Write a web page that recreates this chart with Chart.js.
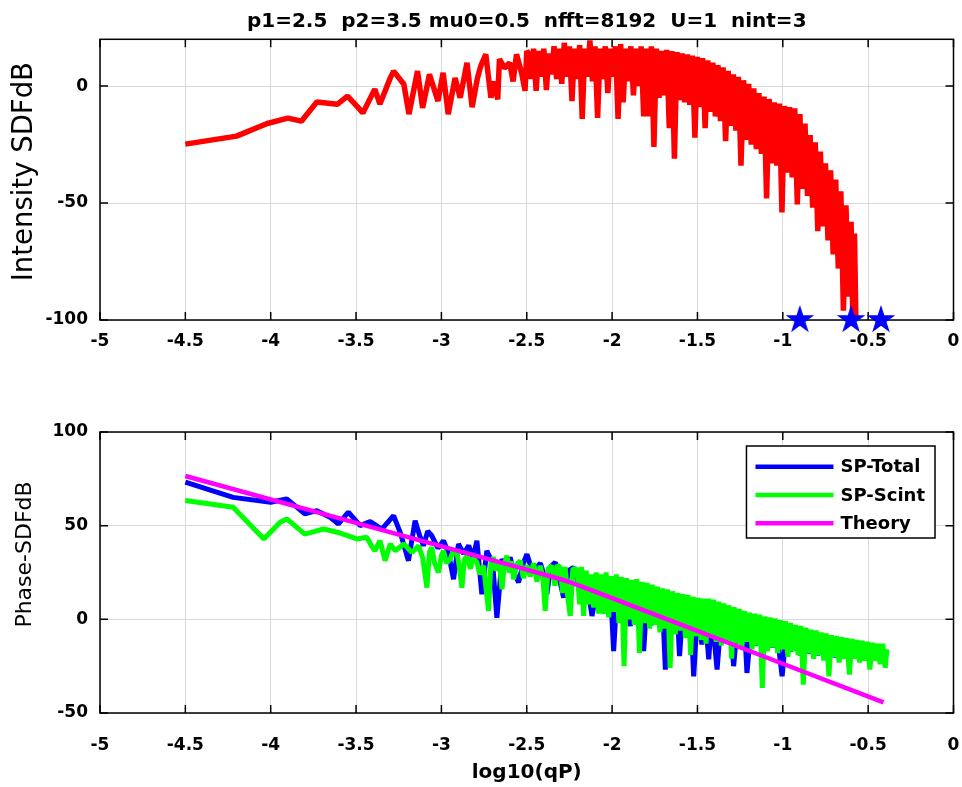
<!DOCTYPE html>
<html>
<head>
<meta charset="utf-8">
<title>Intensity and phase SDF</title>
<script src="https://cdn.jsdelivr.net/npm/chart.js@4.4.1/dist/chart.umd.min.js"></script>
<style>
  html, body { margin: 0; padding: 0; background: #ffffff; }
  #wrap { position: relative; width: 962px; height: 787px; overflow: hidden; }
  #wrap canvas { position: absolute; left: 0; }
  #intensityCanvas { top: 0; }
  #phaseCanvas { top: 370px; }
</style>
</head>
<body>
<div id="wrap">
  <canvas id="intensityCanvas" width="962" height="370"></canvas>
  <canvas id="phaseCanvas" width="962" height="417"></canvas>
</div>
<script>
// ---- tick values and labels ----
const qTicks = [-5, -4.5, -4, -3.5, -3, -2.5, -2, -1.5, -1, -0.5, 0];
const intensityTicks = [-100, -50, 0];
const phaseTicks = [-50, 0, 50, 100];
const runTitle = 'p1=2.5  p2=3.5 mu0=0.5  nfft=8192  U=1  nint=3';

// ---- intensity SDF [log10(qP), dB] ----
const intensitySDF = [
  [-4.50,-24.8],[-4.20,-21.4],[-4.02,-16],[-3.90,-13.7],[-3.82,-15],[-3.73,-6.8],[-3.61,-7.8],
  [-3.55,-4.3],[-3.49,-9],[-3.46,-11.5],[-3.39,-1.3],[-3.36,-7.7],[-3.30,3.4],[-3.28,6.4],
  [-3.22,0.8],[-3.19,-12],[-3.14,6.4],[-3.11,-9.3],[-3.07,5],[-3.02,-6.4],[-2.99,5.7],
  [-2.96,-12],[-2.92,3.5],[-2.89,-5],[-2.85,10],[-2.82,-9],[-2.79,3],[-2.77,8.5],[-2.74,13.6],
  [-2.71,-5],[-2.69,2],[-2.67,-5.7],[-2.66,11.5],[-2.63,7.7],[-2.60,10],[-2.58,2],[-2.56,13.6],
  [-2.53,5.6],[-2.51,-2],[-2.50,15],
  [-2.490,14],[-2.475,3],[-2.460,16],[-2.445,-2],[-2.430,15],[-2.415,4],[-2.400,16],[-2.385,-1.7],
  [-2.370,14],[-2.355,5],[-2.340,17],[-2.325,3],[-2.310,16],[-2.295,1],[-2.280,18.5],[-2.265,4],
  [-2.250,17],[-2.235,-6.4],[-2.220,16],[-2.205,3],[-2.190,17.5],[-2.175,-14],[-2.160,16],[-2.145,4],
  [-2.130,19.5],[-2.115,2],[-2.100,17],[-2.085,-13.6],[-2.070,16],[-2.055,3],[-2.040,17],[-2.025,-3],
  [-2.010,16],[-1.995,4],[-1.980,17],[-1.965,-14],[-1.950,18],[-1.935,-7],[-1.920,16],[-1.905,2],
  [-1.890,17],[-1.875,-4],[-1.860,16],[-1.845,0],[-1.830,17],[-1.815,-13],[-1.800,16],[-1.785,-13],
  [-1.770,17],[-1.755,-26],[-1.740,16],[-1.725,-5],[-1.710,15],[-1.695,-4],[-1.680,15.5],[-1.665,-18],
  [-1.650,15],[-1.635,-31],[-1.620,14.5],[-1.605,-6],[-1.590,14],[-1.575,-7],[-1.560,13.5],[-1.545,-8],
  [-1.530,13],[-1.515,-22],[-1.500,12.5],[-1.485,-9],[-1.470,12],[-1.455,-18],[-1.440,11],[-1.425,-11],
  [-1.410,10],[-1.395,-13],[-1.380,9],[-1.365,-15],[-1.350,8],[-1.335,-23.5],[-1.320,6.5],[-1.305,-17],
  [-1.290,5],[-1.275,-19],[-1.260,4],[-1.245,-34],[-1.230,2.5],[-1.215,-23],[-1.200,1],[-1.185,-25],
  [-1.170,-1],[-1.155,-27],[-1.140,-3],[-1.125,-29],[-1.110,-4.5],[-1.095,-48],[-1.080,-5.5],[-1.065,-33],
  [-1.050,-7],[-1.035,-34],[-1.020,-7.5],[-1.005,-54],[-0.990,-8.5],[-0.975,-37],[-0.960,-9],[-0.945,-39],
  [-0.930,-9.5],[-0.915,-50.6],[-0.900,-12],[-0.885,-44],[-0.870,-16],[-0.855,-47],[-0.840,-21],[-0.825,-52],
  [-0.810,-24],[-0.795,-62],[-0.780,-28],[-0.765,-60],[-0.750,-33],[-0.735,-66],[-0.720,-36],[-0.705,-72],
  [-0.690,-40],[-0.675,-78],[-0.660,-45],[-0.645,-96],[-0.630,-51],[-0.615,-90],[-0.600,-58],[-0.590,-100],
  [-0.580,-63],[-0.572,-100]
];

// star markers on the bottom of the intensity panel
const markerQ = [-0.9, -0.6, -0.425];
const markerLevel = [-100, -100, -100];

// ---- phase SDF [log10(qP), dB] ----
const spTotal = [
  [-4.50,73.2],[-4.22,65.1],[-4.00,62.5],[-3.906,64.3],[-3.80,56.3],[-3.73,58],[-3.652,54.5],
  [-3.603,50.9],[-3.545,57.2],[-3.476,50],[-3.417,52.2],[-3.349,48.2],[-3.28,55.4],[-3.24,46],
  [-3.193,31.3],[-3.154,52.7],[-3.125,44],[-3.105,39.3],[-3.08,47],[-3.056,44.6],[-3.02,38],
  [-2.988,41.9],[-2.96,36],[-2.929,21.4],[-2.90,40.2],[-2.87,35],[-2.84,39.3],[-2.815,33],
  [-2.792,41.9],[-2.763,13.4],[-2.734,36.6],[-2.70,30],[-2.675,0.8],[-2.645,32.2],[-2.62,27],
  [-2.597,33.1],[-2.575,25],[-2.548,19.7],[-2.52,30],[-2.499,34.8],[-2.475,28],[-2.45,26.8],
  [-2.42,30],[-2.40,24],[-2.382,13.4],[-2.36,28],[-2.333,30.4],[-2.31,22],[-2.284,11.6],
  [-2.255,26],[-2.226,27.7],[-2.20,20],[-2.177,9.8],[-2.15,22],[-2.118,1.8],[-2.089,16.1],
  [-2.060,17],[-2.035,4],[-2.010,17],[-1.991,-17],[-1.970,16],[-1.945,2],[-1.920,15],[-1.893,-3.6],
  [-1.870,14],[-1.845,-1],[-1.830,13],[-1.815,-17],[-1.795,12],[-1.770,-3],[-1.745,10],[-1.720,-4],
  [-1.705,9],[-1.688,-26.8],[-1.665,8],[-1.640,-6],[-1.620,7],[-1.605,-19.6],[-1.585,6],[-1.560,-8],
  [-1.540,5],[-1.522,-30.4],[-1.500,4],[-1.474,-13.4],[-1.455,3],[-1.434,-21.4],[-1.415,2.5],[-1.385,-26.8],
  [-1.360,1.5],[-1.335,-11],[-1.310,0],[-1.288,-25],[-1.265,-1],[-1.240,-12],[-1.225,-2],[-1.210,-28.6],
  [-1.185,-3],[-1.160,-14],[-1.135,-4.5],[-1.110,-15],[-1.085,-5.5],[-1.060,-15],[-1.035,-6.5],[-1.004,-30.4],
  [-0.980,-7.5],[-0.955,-17],[-0.930,-8.5],[-0.897,-19],[-0.870,-10],[-0.845,-18],[-0.820,-11],[-0.795,-19],
  [-0.770,-12],[-0.745,-20],[-0.720,-13],[-0.695,-20],[-0.670,-14],[-0.645,-20],[-0.620,-15],[-0.595,-20],
  [-0.570,-16],[-0.545,-20],[-0.520,-16.5],[-0.495,-20],[-0.470,-17],[-0.445,-20],[-0.420,-17.5],[-0.400,-20]
];

const spScint = [
  [-4.50,63.4],[-4.22,59.8],[-4.04,42.9],[-3.945,51.8],[-3.906,53.6],[-3.80,45.5],[-3.69,48.2],
  [-3.61,46.5],[-3.495,42.9],[-3.437,43.8],[-3.41,39.3],[-3.39,36.6],[-3.36,42],[-3.33,31.3],
  [-3.30,40.2],[-3.27,36.6],[-3.22,40.2],[-3.173,35.7],[-3.134,39.3],[-3.110,33],[-3.085,16.9],
  [-3.070,36],[-3.056,38.4],[-3.040,30],[-3.017,25],[-3.000,34],[-2.988,36.6],[-2.970,30],
  [-2.948,32.2],[-2.930,37],[-2.909,35.7],[-2.895,28],[-2.880,16.9],[-2.865,32],[-2.850,33.9],
  [-2.830,27],[-2.815,33],[-2.792,30.4],[-2.775,24],[-2.753,28.6],[-2.724,4.5],[-2.710,30],
  [-2.695,33.1],[-2.680,26],[-2.660,31],[-2.645,16.1],[-2.630,30],[-2.616,33.9],[-2.600,25],
  [-2.590,31],[-2.577,21.4],[-2.560,29],[-2.538,31.3],[-2.520,22],[-2.499,28.6],[-2.480,23],
  [-2.460,30],[-2.440,20],[-2.421,28.6],[-2.405,22],[-2.392,4.5],[-2.375,27],[-2.352,28.6],
  [-2.335,18],[-2.320,29],[-2.304,27.7],[-2.290,14],[-2.275,28],[-2.260,12],[-2.245,1.8],
  [-2.230,27],[-2.206,26.8],[-2.190,8],[-2.180,28],[-2.167,1.8],[-2.152,26],[-2.138,8],
  [-2.123,24],[-2.108,6.3],[-2.093,25],[-2.079,3],
  [-2.065,24],[-2.050,3],[-2.035,25],[-2.020,1],[-2.005,23],[-1.990,4],[-1.975,24],[-1.960,-2],
  [-1.945,22.5],[-1.930,-25],[-1.915,22],[-1.900,0],[-1.885,21],[-1.870,-3],[-1.855,21.5],[-1.840,-17.9],
  [-1.825,20],[-1.810,-2],[-1.795,19.5],[-1.780,-5],[-1.765,18.5],[-1.750,-3],[-1.735,17.5],[-1.720,-7],
  [-1.705,16.5],[-1.690,-5],[-1.675,16],[-1.660,-25.9],[-1.645,15],[-1.630,-8],[-1.615,14],[-1.600,-6],
  [-1.585,13.5],[-1.570,-10],[-1.555,13],[-1.540,-19],[-1.525,12],[-1.510,-9],[-1.495,11.5],[-1.480,-11],
  [-1.465,11],[-1.450,-13],[-1.435,11],[-1.420,-9],[-1.405,10.5],[-1.390,-12],[-1.375,9.5],[-1.360,-14],
  [-1.345,8.5],[-1.330,-11],[-1.315,7.5],[-1.300,-21],[-1.285,6.5],[-1.270,-13],[-1.255,5.5],[-1.240,-15],
  [-1.225,4.5],[-1.210,-12],[-1.195,3.5],[-1.180,-16],[-1.165,3],[-1.150,-14],[-1.135,2.5],[-1.120,-36.6],
  [-1.105,1.5],[-1.090,-17],[-1.075,1],[-1.060,-15],[-1.045,0.5],[-1.030,-18],[-1.015,-0.5],[-1.000,-16],
  [-0.985,-1],[-0.970,-20],[-0.955,-2],[-0.940,-17],[-0.925,-3],[-0.910,-19],[-0.895,-3.5],[-0.880,-34.8],
  [-0.865,-4.5],[-0.850,-18],[-0.835,-5.5],[-0.820,-21],[-0.805,-6],[-0.790,-19],[-0.775,-7],[-0.760,-22],
  [-0.745,-7.5],[-0.730,-30.4],[-0.715,-8.5],[-0.700,-20],[-0.685,-9],[-0.670,-23],[-0.655,-9.5],[-0.640,-21],
  [-0.625,-10],[-0.610,-29.5],[-0.595,-10.5],[-0.580,-21],[-0.565,-11],[-0.550,-23],[-0.535,-11.5],[-0.520,-22],
  [-0.505,-12],[-0.490,-26.8],[-0.475,-12.5],[-0.460,-22],[-0.445,-13],[-0.430,-24],[-0.415,-13],[-0.400,-25.9],
  [-0.390,-16]
];

const theory = [
  [-4.5,76.5],[-3.5,51.5],[-2.5,26.5],[-2.3,21.4],[-2.2,18.3],[-2.0,11.3],[-1.0,-23.7],[-0.41,-44.3]
];

// ---- styling ----
const FONT = '"DejaVu Sans", "Liberation Sans", Arial, sans-serif';
const GRID = '#d9d9d9';
const RED = '#ff0000', BLUE = '#0000ff', GREEN = '#00ff00', MAGENTA = '#ff00ff';
const tickFont = { family: FONT, size: 17, weight: 'bold' };

const toXY = arr => arr.map(([x, y]) => ({ x, y }));

// filled five-pointed star used as the marker image
function makeStar(R, color) {
  const c = document.createElement('canvas');
  const s = Math.ceil(R * 2) + 2;
  c.width = s; c.height = s;
  const g = c.getContext('2d');
  const cx = s / 2, cy = s / 2;
  g.beginPath();
  for (let k = 0; k < 10; k++) {
    const r = k % 2 ? R * 0.382 : R;
    const a = -Math.PI / 2 + k * Math.PI / 5;
    g.lineTo(cx + r * Math.cos(a), cy + r * Math.sin(a));
  }
  g.closePath();
  g.fillStyle = color;
  g.fill();
  return c;
}
const starMarker = makeStar(15, BLUE);

// box around the axes with inward tick marks on all four sides
const axesFrame = {
  id: 'axesFrame',
  beforeDatasetsDraw(chart) {
    const { ctx, chartArea: a, scales: { x, y } } = chart;
    const L = 8;
    ctx.save();
    ctx.strokeStyle = '#000';
    ctx.lineWidth = 1.5;
    ctx.beginPath();
    x.ticks.forEach(t => {
      const px = x.getPixelForValue(t.value);
      ctx.moveTo(px, a.bottom); ctx.lineTo(px, a.bottom - L);
      ctx.moveTo(px, a.top); ctx.lineTo(px, a.top + L);
    });
    y.ticks.forEach(t => {
      const py = y.getPixelForValue(t.value);
      ctx.moveTo(a.left, py); ctx.lineTo(a.left + L, py);
      ctx.moveTo(a.right, py); ctx.lineTo(a.right - L, py);
    });
    ctx.stroke();
    ctx.strokeRect(a.left, a.top, a.right - a.left, a.bottom - a.top);
    ctx.restore();
  }
};

// slides the vertical axis title along the axis while the scale is drawn,
// then puts the scale bounds back before the data (and its clip box) is drawn
const yTitleShift = {
  id: 'yTitleShift',
  beforeDraw(chart, args, opts) {
    const y = chart.scales.y;
    const d = opts.shift || 0;
    y.top -= d;
    y.bottom -= d;
  },
  beforeDatasetsDraw(chart, args, opts) {
    const y = chart.scales.y;
    const d = opts.shift || 0;
    y.top += d;
    y.bottom += d;
  }
};

// boxed legend inside the upper-right corner of the axes
const insetLegend = {
  id: 'insetLegend',
  afterDatasetsDraw(chart) {
    const { ctx, chartArea: a } = chart;
    const sets = chart.data.datasets;
    ctx.save();
    ctx.font = 'bold 18px ' + FONT;
    const textW = Math.max(...sets.map(d => ctx.measureText(d.label).width));
    const padL = 9, sample = 78, gap = 7, padR = 10, rowH = 28.3;
    const w = padL + sample + gap + textW + padR;
    const h = 92;
    const left = a.right - 18.5 - w;
    const top = a.top + 14;
    ctx.fillStyle = '#fff';
    ctx.fillRect(left, top, w, h);
    ctx.strokeStyle = '#000';
    ctx.lineWidth = 1.5;
    ctx.strokeRect(left, top, w, h);
    sets.forEach((d, i) => {
      const cy = top + 20.7 + i * rowH;
      ctx.strokeStyle = d.borderColor;
      ctx.lineWidth = 4.5;
      ctx.beginPath();
      ctx.moveTo(left + padL, cy);
      ctx.lineTo(left + padL + sample, cy);
      ctx.stroke();
      ctx.fillStyle = '#000';
      ctx.textAlign = 'left';
      ctx.textBaseline = 'middle';
      ctx.fillText(d.label, left + padL + sample + gap, cy + 1);
    });
    ctx.restore();
  }
};

function xScale(height, labelPad, title) {
  return {
    type: 'linear', min: -5, max: 0,
    afterBuildTicks: s => { s.ticks = qTicks.map(v => ({ value: v })); },
    afterFit: s => { s.height = height; s.paddingLeft = 0; s.paddingRight = 0; },
    grid: { color: GRID, lineWidth: 1, drawTicks: false },
    border: { display: false },
    ticks: { font: tickFont, color: '#000', padding: labelPad, maxRotation: 0, autoSkip: false,
             callback: v => String(v) },
    title: title ? { display: true, text: title, color: '#000',
                     font: { family: FONT, size: 20, weight: 'bold' },
                     padding: { top: 0, bottom: 2.6 } } : { display: false }
  };
}

function yScale(min, max, ticks, title, size, pad) {
  return {
    type: 'linear', min, max,
    afterBuildTicks: s => { s.ticks = ticks.map(v => ({ value: v })); },
    afterFit: s => { s.width = 100; },
    grid: { color: GRID, lineWidth: 1, drawTicks: false },
    border: { display: false },
    ticks: { font: tickFont, color: '#000', padding: 12, callback: v => String(v) },
    title: { display: true, text: title, color: '#000',
             font: { family: FONT, size, weight: 'normal' },
             padding: { top: pad, bottom: 0 } }
  };
}

const common = {
  responsive: false,
  animation: false,
  events: [],
  elements: { point: { radius: 0 }, line: { tension: 0, borderJoinStyle: 'bevel' } }
};

// ---- upper panel: intensity SDF ----
new Chart(document.getElementById('intensityCanvas'), {
  type: 'line',
  data: {
    datasets: [
      { label: 'markers', type: 'scatter', showLine: false,
        data: markerQ.map((q, i) => ({ x: q, y: markerLevel[i] })),
        pointStyle: starMarker, pointRadius: 1, clip: false, order: 0 },
      { label: 'Intensity SDFdB', data: toXY(intensitySDF),
        borderColor: RED, backgroundColor: RED, borderWidth: 5.5, borderJoinStyle: 'bevel',
        pointRadius: 0, fill: false, order: 1 }
    ]
  },
  options: {
    ...common,
    layout: { padding: { left: 0, right: 8.5, top: 0, bottom: 0 } },
    plugins: {
      legend: { display: false },
      tooltip: { enabled: false },
      yTitleShift: { shift: 8 },
      title: { display: true, text: runTitle, fullSize: false, color: '#000',
               font: { family: FONT, size: 20, weight: 'bold' },
               padding: { top: 10, bottom: 5.3 } }
    },
    scales: {
      x: xScale(50, 11, null),
      y: yScale(-100, 20, intensityTicks, 'Intensity SDFdB', 27.5, 8.5)
    }
  },
  plugins: [axesFrame, yTitleShift]
});

// ---- lower panel: phase SDF ----
new Chart(document.getElementById('phaseCanvas'), {
  type: 'line',
  data: {
    datasets: [
      { label: 'SP-Total', data: toXY(spTotal), borderColor: BLUE, backgroundColor: BLUE,
        borderWidth: 5, borderJoinStyle: 'bevel', pointRadius: 0, fill: false, order: 3 },
      { label: 'SP-Scint', data: toXY(spScint), borderColor: GREEN, backgroundColor: GREEN,
        borderWidth: 5, borderJoinStyle: 'bevel', pointRadius: 0, fill: false, order: 2 },
      { label: 'Theory', data: toXY(theory), borderColor: MAGENTA, backgroundColor: MAGENTA,
        borderWidth: 4.5, pointRadius: 0, fill: false, order: 1 }
    ]
  },
  options: {
    ...common,
    layout: { padding: { left: 0, right: 8.5, top: 62, bottom: 0 } },
    plugins: {
      legend: { display: false },
      tooltip: { enabled: false },
      yTitleShift: { shift: 18 }
    },
    scales: {
      x: xScale(74, 22, 'log10(qP)'),
      y: yScale(-50, 100, phaseTicks, 'Phase-SDFdB', 22, 11.8)
    }
  },
  plugins: [axesFrame, yTitleShift, insetLegend]
});
</script>
</body>
</html>
